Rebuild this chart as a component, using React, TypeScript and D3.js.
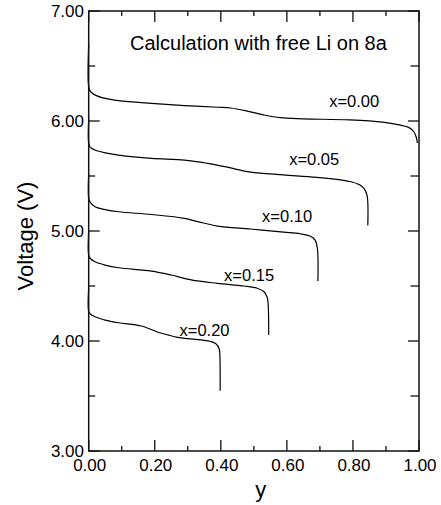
import React from "react";
import * as d3 from "d3";

const seriesNames = ["x=0.00", "x=0.05", "x=0.10", "x=0.15", "x=0.20"];

const y00 = [0, 0, 0.005, 0.02, 0.05, 0.09, 0.19, 0.29, 0.39, 0.43, 0.48, 0.53, 0.58, 0.65, 0.79, 0.89, 0.94, 0.97, 0.985, 0.992, 0.995];
const v00 = [6.7, 6.31, 6.27, 6.235, 6.205, 6.185, 6.16, 6.14, 6.125, 6.118, 6.09, 6.055, 6.03, 6.02, 6.01, 5.99, 5.965, 5.94, 5.9, 5.85, 5.8];

const y05 = [0, 0, 0.005, 0.019, 0.05, 0.09, 0.19, 0.29, 0.36, 0.42, 0.49, 0.59, 0.69, 0.79, 0.82, 0.835, 0.843, 0.845];
const v05 = [6.02, 5.8, 5.76, 5.736, 5.71, 5.69, 5.66, 5.645, 5.615, 5.58, 5.535, 5.51, 5.488, 5.45, 5.42, 5.38, 5.32, 5.05];

const y10 = [0, 0, 0.005, 0.019, 0.05, 0.09, 0.19, 0.29, 0.33, 0.39, 0.49, 0.59, 0.64, 0.67, 0.685, 0.692, 0.694];
const v10 = [5.52, 5.3, 5.26, 5.22, 5.195, 5.175, 5.15, 5.115, 5.085, 5.045, 5.018, 4.99, 4.975, 4.955, 4.92, 4.85, 4.545];

const y15 = [0, 0, 0.005, 0.019, 0.05, 0.09, 0.19, 0.25, 0.31, 0.39, 0.47, 0.51, 0.53, 0.54, 0.543, 0.545];
const v15 = [5.0, 4.78, 4.75, 4.72, 4.69, 4.666, 4.636, 4.6, 4.555, 4.524, 4.5, 4.48, 4.45, 4.4, 4.35, 4.055];

const y20 = [0, 0, 0.005, 0.019, 0.05, 0.09, 0.16, 0.21, 0.24, 0.27, 0.3, 0.34, 0.37, 0.385, 0.395, 0.397, 0.398];
const v20 = [4.48, 4.27, 4.245, 4.22, 4.19, 4.166, 4.136, 4.08, 4.055, 4.033, 4.022, 4.01, 3.995, 3.975, 3.93, 3.88, 3.548];

const seriesY = [y00, y05, y10, y15, y20];
const seriesV = [v00, v05, v10, v15, v20];
// label anchor positions in data units (y, V)
const labelY = [0.728, 0.607, 0.525, 0.41, 0.275];
const labelV = [6.13, 5.6, 5.08, 4.545, 4.05];

const xTicksMajor = [0, 0.2, 0.4, 0.6, 0.8, 1.0];
const xTicksMinor = [0.1, 0.3, 0.5, 0.7, 0.9];
const yTicksMajor = [3, 4, 5, 6, 7];
const yTicksMinor = [3.5, 4.5, 5.5, 6.5];

const title = "Calculation with free Li on 8a";
const xTitle = "y";
const yTitle = "Voltage (V)";

const FONT = "'Liberation Sans', Arial, Helvetica, sans-serif";

export default function App() {
  const W = 441, H = 505;
  const left = 88.7, right = 419, top = 11, bottom = 451;
  const x = d3.scaleLinear().domain([0, 1]).range([left, right]);
  const y = d3.scaleLinear().domain([3, 7]).range([bottom, top]);
  const line = d3
    .line<[number, number]>()
    .x((d) => x(d[0]))
    .y((d) => y(d[1]))
    .curve(d3.curveCatmullRom.alpha(0.5));

  const axisColor = "#111";
  const majorLen = 11, minorLenY = 6.5, minorLenX = 5;

  return (
    <svg width={W} height={H} style={{ position: "absolute", left: 0, top: 0, background: "#fff" }}>
      <rect x={0} y={0} width={W} height={H} fill="#fff" />
      {/* curves */}
      {seriesY.map((ys, i) => (
        <path
          key={"c" + i}
          d={line(ys.map((v, j) => [v, seriesV[i][j]] as [number, number])) || ""}
          fill="none"
          stroke="#000"
          strokeWidth={1.2}
        />
      ))}
      {/* frame */}
      <rect x={left} y={top} width={right - left} height={bottom - top} fill="none" stroke={axisColor} strokeWidth={1.5} />
      {/* x ticks */}
      {xTicksMajor.map((t) => (
        <g key={"xm" + t}>
          <line x1={x(t)} x2={x(t)} y1={bottom} y2={bottom - majorLen} stroke={axisColor} strokeWidth={1.3} />
          <line x1={x(t)} x2={x(t)} y1={top} y2={top + majorLen} stroke={axisColor} strokeWidth={1.3} />
          <text x={x(t) + 1} y={471} textAnchor="middle" fontFamily={FONT} fontSize={17} fill="#000">
            {t.toFixed(2)}
          </text>
        </g>
      ))}
      {xTicksMinor.map((t) => (
        <g key={"xn" + t}>
          <line x1={x(t)} x2={x(t)} y1={bottom} y2={bottom - minorLenX} stroke={axisColor} strokeWidth={1.3} />
          <line x1={x(t)} x2={x(t)} y1={top} y2={top + minorLenX} stroke={axisColor} strokeWidth={1.3} />
        </g>
      ))}
      {/* y ticks */}
      {yTicksMajor.map((t) => (
        <g key={"ym" + t}>
          <line x1={left} x2={left + majorLen} y1={y(t)} y2={y(t)} stroke={axisColor} strokeWidth={1.3} />
          <line x1={right} x2={right - majorLen} y1={y(t)} y2={y(t)} stroke={axisColor} strokeWidth={1.3} />
          <text x={84} y={y(t)} dy="0.33em" textAnchor="end" fontFamily={FONT} fontSize={17} fill="#000">
            {t.toFixed(2)}
          </text>
        </g>
      ))}
      {yTicksMinor.map((t) => (
        <g key={"yn" + t}>
          <line x1={left} x2={left + minorLenY} y1={y(t)} y2={y(t)} stroke={axisColor} strokeWidth={1.3} />
          <line x1={right} x2={right - minorLenY - 2} y1={y(t)} y2={y(t)} stroke={axisColor} strokeWidth={1.3} />
        </g>
      ))}
      {/* series labels */}
      {seriesNames.map((n, i) => (
        <text key={"l" + i} x={x(labelY[i])} y={y(labelV[i])} fontFamily={FONT} fontSize={16.5} fill="#000">
          {n}
        </text>
      ))}
      {/* title */}
      <text x={130} y={50} fontFamily={FONT} fontSize={20} fill="#000">
        {title}
      </text>
      {/* axis titles */}
      <text x={(left + right) / 2 + 7} y={497} textAnchor="middle" fontFamily={FONT} fontSize={22} fill="#000">
        {xTitle}
      </text>
      <text
        transform={`translate(33, 236) rotate(-90)`}
        textAnchor="middle"
        fontFamily={FONT}
        fontSize={22}
        fill="#000"
      >
        {yTitle}
      </text>
    </svg>
  );
}
